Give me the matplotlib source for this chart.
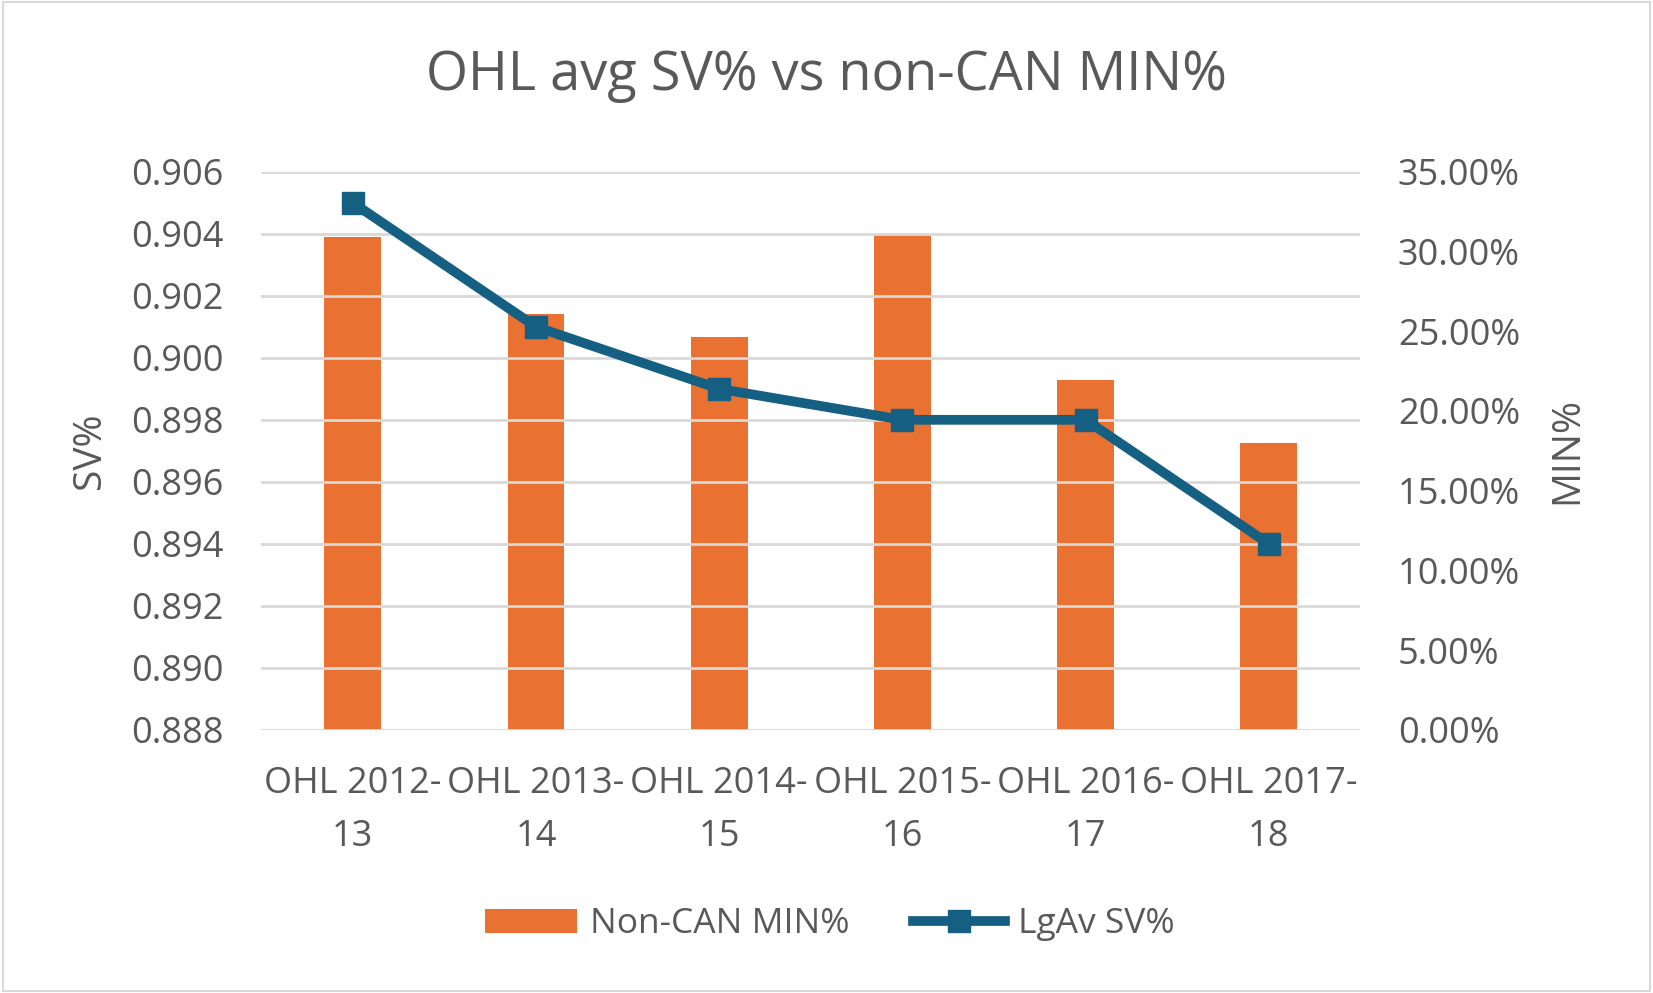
import matplotlib
matplotlib.use("Agg")
import matplotlib.pyplot as plt
from matplotlib.ticker import FuncFormatter, MultipleLocator
from matplotlib.patches import Rectangle, Patch
from matplotlib.lines import Line2D

categories = ["OHL 2012-\n13", "OHL 2013-\n14", "OHL 2014-\n15", "OHL 2015-\n16", "OHL 2016-\n17", "OHL 2017-\n18"]
min_pct = [30.9, 26.1, 24.65, 31.05, 21.95, 18.0]   # Non-CAN MIN% (percent)
sv_pct = [0.905, 0.901, 0.899, 0.898, 0.898, 0.894]  # LgAv SV%

ORANGE = "#E97132"
BLUE = "#156082"
TEXT = "#595959"
GRID = "#D9D9D9"
FONT = "Open Sans"

plt.rcParams["font.family"] = [FONT, "DejaVu Sans"]

fig = plt.figure(figsize=(16.53, 9.93), dpi=100)
fig.patches.append(Rectangle((0.002, 0.002), 0.996, 0.996, transform=fig.transFigure,
                             fill=False, edgecolor="#D9D9D9", linewidth=1.5))

ax2 = fig.add_axes([0.158, 0.265, 0.665, 0.562])  # bars, right axis
ax = ax2.twinx()
ax2.yaxis.tick_right()
ax2.yaxis.set_label_position("right")
ax.yaxis.tick_left()
ax.yaxis.set_label_position("left")

x = list(range(len(categories)))
ax2.bar(x, min_pct, width=0.31, color=ORANGE, zorder=2)
ax2.set_ylim(0, 35)
ax2.yaxis.set_major_locator(MultipleLocator(5))
ax2.yaxis.set_major_formatter(FuncFormatter(lambda v, p: f"{v:.2f}%"))

ax.plot(x, sv_pct, color=BLUE, linewidth=7, marker="s", markersize=16, zorder=3,
        solid_joinstyle="miter")
ax.set_ylim(0.888, 0.906)
ax.yaxis.set_major_locator(MultipleLocator(0.002))
ax.yaxis.set_major_formatter(FuncFormatter(lambda v, p: f"{v:.3f}"))

ax2.set_xlim(-0.5, 5.5)
ax.grid(axis="y", color=GRID, linewidth=2, zorder=0)
ax.set_axisbelow(True)
ax2.set_zorder(0)
ax.set_zorder(1)
ax.patch.set_visible(False)

for a in (ax, ax2):
    for s in a.spines.values():
        s.set_visible(False)
    a.tick_params(length=0, labelsize=26, colors=TEXT, pad=27)

ax2.set_xticks(x)
ax2.set_xticklabels(categories, fontsize=26, color=TEXT, linespacing=1.62)
ax2.tick_params(axis="x", pad=26)

ax.set_ylabel("SV%", fontsize=28, color=TEXT, labelpad=16)
ax2.set_ylabel("MIN%", fontsize=28, color=TEXT, labelpad=20)

fig.text(0.5, 0.924, "OHL avg SV% vs non-CAN MIN%", ha="center", va="center",
         fontsize=39, color=TEXT)

handles = [Patch(facecolor=ORANGE, edgecolor="none"),
           Line2D([0], [0], color=BLUE, linewidth=7, marker="s", markersize=16)]
fig.legend(handles, ["Non-CAN MIN%", "LgAv SV%"], loc="center", bbox_to_anchor=(0.502, 0.069),
           ncol=2, frameon=False, fontsize=25.5, labelcolor=TEXT, handlelength=2.6,
           handleheight=0.65, columnspacing=1.8, handletextpad=0.35)

fig.savefig("out.png", dpi=100)
